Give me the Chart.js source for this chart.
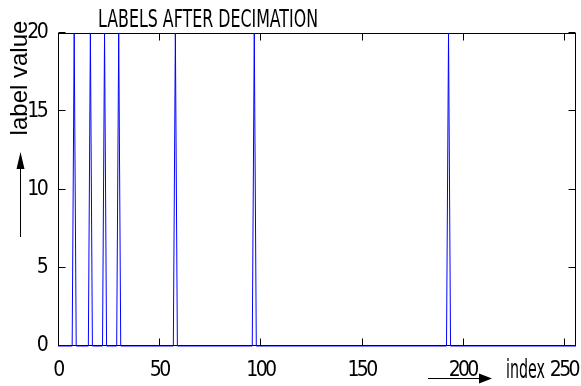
<!DOCTYPE html>
<html>
<head>
<meta charset="utf-8">
<script src="https://cdn.jsdelivr.net/npm/chart.js@4"></script>
<style>
  html, body { margin: 0; padding: 0; background: #fff; }
  #wrap { width: 581px; height: 386px; }
</style>
</head>
<body>
<div id="wrap"><canvas id="c" width="581" height="386"></canvas></div>
<script>
// Label trace after decimation: break points of the polyline (index, label value)
const indexValues = [0, 7, 8, 9, 15, 16, 17, 22, 23, 24, 29, 30, 31, 57, 58, 59, 96, 97, 98, 192, 193, 194, 256];
const labelValues = [0, 0, 20, 0, 0, 20, 0, 0, 20, 0, 0, 20, 0, 0, 20, 0, 0, 20, 0, 0, 20, 0, 0];

const xTicks = [0, 50, 100, 150, 200, 250];
const yTicks = [0, 5, 10, 15, 20];

const titleText = 'LABELS AFTER DECIMATION';
const xTitle = 'index';
const yTitle = 'label value';

const narrow = "'Liberation Sans Narrow', 'DejaVu Sans Condensed', 'Liberation Sans', sans-serif";
const regular = "'Liberation Sans', Arial, sans-serif";
const tickSize = 21;

// draw text squeezed horizontally to a given width
function fillFitted(ctx, text, x, y, width) {
  const w = ctx.measureText(text).width;
  ctx.save();
  ctx.translate(x, y);
  ctx.scale(width / w, 1);
  ctx.fillText(text, 0, 0);
  ctx.restore();
}

// Tight digit spacing for the tick labels (about 9.4px per digit)
const tightTicks = {
  id: 'tightTicks',
  beforeDraw(chart) {
    const ctx = chart.ctx;
    ctx.font = tickSize + 'px ' + narrow;
    ctx.letterSpacing = '0px';
    const w = ctx.measureText('200').width;
    const s = Math.min(0, (28 - w) / 3);
    ctx.letterSpacing = s.toFixed(2) + 'px';
  }
};

// Box, inward tick marks, title and axis captions with arrows
const decorations = {
  id: 'decorations',
  beforeDatasetsDraw(chart) {
    const { ctx, chartArea: a, scales } = chart;
    ctx.save();
    ctx.strokeStyle = '#000';
    ctx.lineWidth = 1;
    const L = a.left + 0.5, R = a.right - 0.5, T = a.top + 0.5, B = a.bottom - 0.5;
    ctx.strokeRect(L, T, R - L, B - T);
    const len = 7;
    ctx.beginPath();
    xTicks.forEach(v => {
      const px = Math.round(scales.x.getPixelForValue(v)) + 0.5;
      ctx.moveTo(px, B); ctx.lineTo(px, B - len);
      ctx.moveTo(px, T); ctx.lineTo(px, T + len);
    });
    yTicks.forEach(v => {
      const py = Math.round(scales.y.getPixelForValue(v)) - 0.5;
      ctx.moveTo(L, py); ctx.lineTo(L + len, py);
      ctx.moveTo(R, py); ctx.lineTo(R - len, py);
    });
    ctx.stroke();
    ctx.restore();
  },
  afterDraw(chart) {
    const { ctx } = chart;
    ctx.letterSpacing = '0px';
    ctx.save();
    ctx.fillStyle = '#000';
    ctx.strokeStyle = '#000';
    ctx.lineWidth = 1;
    ctx.textBaseline = 'alphabetic';

    // title, condensed
    ctx.font = '25px ' + narrow;
    ctx.textAlign = 'center';
    fillFitted(ctx, titleText, 208, 27, 220);

    // y caption, rotated
    ctx.save();
    ctx.translate(27, 78);
    ctx.rotate(-Math.PI / 2);
    ctx.font = '24px ' + regular;
    ctx.textAlign = 'center';
    ctx.fillText(yTitle, 0, 0);
    ctx.restore();

    // y arrow
    ctx.beginPath();
    ctx.moveTo(20.5, 237); ctx.lineTo(20.5, 166);
    ctx.stroke();
    ctx.beginPath();
    ctx.moveTo(20.5, 152); ctx.lineTo(16.5, 169); ctx.lineTo(24.5, 169);
    ctx.closePath(); ctx.fill();

    // x caption
    ctx.font = '26px ' + narrow;
    ctx.textAlign = 'left';
    fillFitted(ctx, xTitle, 506, 378, 39);

    // x arrow
    ctx.beginPath();
    ctx.moveTo(428, 378.5); ctx.lineTo(482, 378.5);
    ctx.stroke();
    ctx.beginPath();
    ctx.moveTo(492, 378.5); ctx.lineTo(479, 373.5); ctx.lineTo(479, 383.5);
    ctx.closePath(); ctx.fill();
    ctx.restore();
  }
};

new Chart(document.getElementById('c'), {
  type: 'line',
  data: {
    datasets: [{
      data: indexValues.map((x, i) => ({ x, y: labelValues[i] })),
      borderColor: '#0000ff',
      borderWidth: 1,
      pointRadius: 0,
      tension: 0,
      fill: false,
      clip: 3
    }]
  },
  options: {
    responsive: false,
    animation: false,
    devicePixelRatio: 1,
    layout: { padding: { left: 0, top: 33, right: 5, bottom: 0 } },
    plugins: { legend: { display: false }, tooltip: { enabled: false }, title: { display: false } },
    scales: {
      x: {
        type: 'linear',
        min: 0,
        max: 256,
        afterBuildTicks(s) { s.ticks = xTicks.map(v => ({ value: v })); },
        ticks: { color: '#000', font: { family: narrow, size: tickSize }, padding: 4, maxRotation: 0, autoSkip: false },
        grid: { display: false },
        border: { display: false },
        afterFit(s) { s.height = 40; s.paddingLeft = 0; s.paddingRight = 0; }
      },
      y: {
        type: 'linear',
        min: 0,
        max: 20,
        afterBuildTicks(s) { s.ticks = yTicks.map(v => ({ value: v })); },
        ticks: { color: '#000', font: { family: narrow, size: tickSize }, padding: 4, autoSkip: false },
        grid: { display: false },
        border: { display: false },
        afterFit(s) { s.width = 58; s.paddingTop = 0; s.paddingBottom = 0; }
      }
    }
  },
  plugins: [tightTicks, decorations]
});
</script>
</body>
</html>
